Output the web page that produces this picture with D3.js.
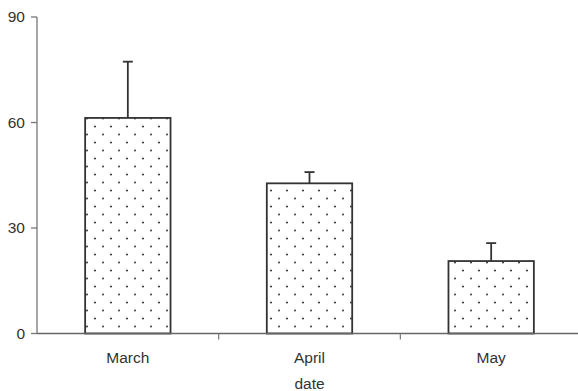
<!DOCTYPE html>
<html><head><meta charset="utf-8">
<script src="https://cdn.jsdelivr.net/npm/d3@7"></script>
<style>body{margin:0;background:#fff}svg{display:block}text{font-family:"Liberation Sans",Arial,sans-serif}</style>
</head><body>
<script>
const categories = ["March", "April", "May"];
const means = [61.3, 42.7, 20.6];
const errors = [16.0, 3.2, 5.1];
const yTicks = [0, 30, 60, 90];
const xTitle = "date";

const W = 578, H = 391;
const svg = d3.select("body").append("svg").attr("width", W).attr("height", H);

const defs = svg.append("defs");
const pat = defs.append("pattern").attr("id", "dots").attr("patternUnits", "userSpaceOnUse")
  .attr("width", 16).attr("height", 16).attr("x", 87).attr("y", 286);
pat.append("rect").attr("width", 16).attr("height", 16).attr("fill", "#fff");
pat.append("circle").attr("cx", 8).attr("cy", 0.5).attr("r", 1).attr("fill", "#333");
pat.append("circle").attr("cx", 0).attr("cy", 8.5).attr("r", 1).attr("fill", "#333");
pat.append("circle").attr("cx", 16).attr("cy", 8.5).attr("r", 1).attr("fill", "#333");
pat.append("circle").attr("cx", 8).attr("cy", 16.5).attr("r", 1).attr("fill", "#333");

const x = d3.scaleBand().domain(categories).range([37, 582]).padding(0);
const y = d3.scaleLinear().domain([0, 90]).range([333.5, 17]);
const barFrac = 0.47;

// y axis
const ya = svg.append("g").attr("transform", "translate(37,0)");
ya.append("line").attr("x1", 0).attr("x2", 0).attr("y1", y(0)).attr("y2", y(90))
  .attr("stroke", "#777").attr("stroke-width", 1.3);
ya.selectAll("line.t").data(yTicks).join("line").attr("class", "t")
  .attr("x1", -6).attr("x2", 0).attr("y1", d => y(d)).attr("y2", d => y(d))
  .attr("stroke", "#777").attr("stroke-width", 1.3);
ya.selectAll("text").data(yTicks).join("text")
  .attr("x", -12).attr("y", d => y(d)).attr("dy", "0.35em").attr("text-anchor", "end")
  .attr("font-size", 15.5).attr("fill", "#333").text(d => d);

// bars
const bars = svg.append("g");
categories.forEach((c, i) => {
  const bw = x.bandwidth() * barFrac;
  const cx = x(c) + x.bandwidth() / 2;
  bars.append("line").attr("x1", cx).attr("x2", cx).attr("y1", y(means[i])).attr("y2", y(means[i] + errors[i]))
    .attr("stroke", "#333").attr("stroke-width", 1.8);
  bars.append("line").attr("x1", cx - 5).attr("x2", cx + 5).attr("y1", y(means[i] + errors[i])).attr("y2", y(means[i] + errors[i]))
    .attr("stroke", "#333").attr("stroke-width", 1.8);
  bars.append("rect").attr("x", cx - bw / 2).attr("y", y(means[i])).attr("width", bw).attr("height", y(0) - y(means[i]))
    .attr("fill", "url(#dots)").attr("stroke", "#333").attr("stroke-width", 1.8);
});

// x axis
const xa = svg.append("g");
xa.append("line").attr("x1", 37).attr("x2", 582).attr("y1", y(0)).attr("y2", y(0))
  .attr("stroke", "#666").attr("stroke-width", 1.4);
const bounds = categories.slice(1).map(c => x(c));
xa.selectAll("line.t").data(bounds).join("line").attr("class", "t")
  .attr("x1", d => d).attr("x2", d => d).attr("y1", y(0)).attr("y2", y(0) + 6)
  .attr("stroke", "#777").attr("stroke-width", 1.2);
xa.selectAll("text").data(categories).join("text")
  .attr("x", d => x(d) + x.bandwidth() / 2).attr("y", 363).attr("text-anchor", "middle")
  .attr("font-size", 15.5).attr("fill", "#333").text(d => d);
svg.append("text").attr("x", 309.5).attr("y", 389).attr("text-anchor", "middle")
  .attr("font-size", 15.5).attr("fill", "#333").text(xTitle);
</script>
</body></html>
